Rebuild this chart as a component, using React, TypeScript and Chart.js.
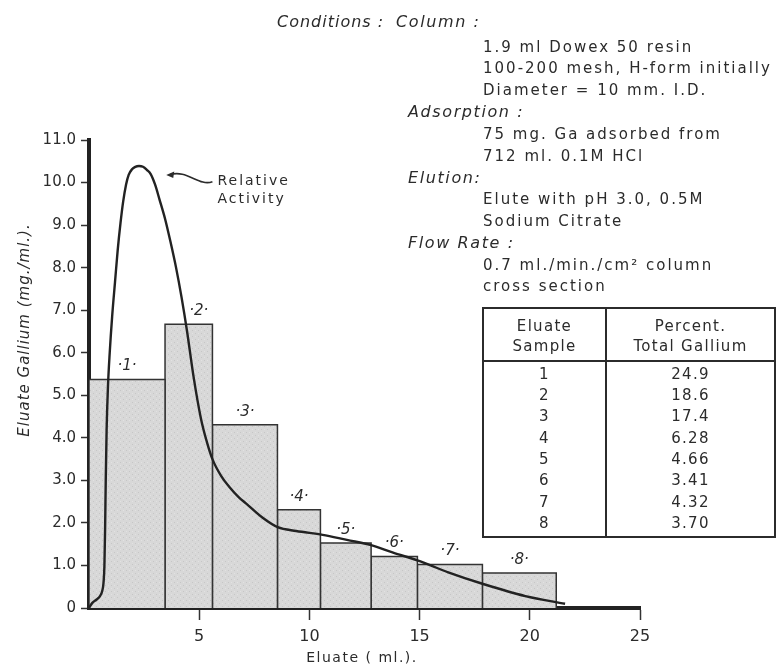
import React, { useEffect, useRef } from 'react';
import { Chart, registerables } from 'chart.js';

Chart.register(...registerables);

// ---- data ----
const binEdges = [0, 3.45, 5.6, 8.55, 10.5, 12.8, 14.9, 17.85, 21.2];
const binHeights = [5.37, 6.67, 4.31, 2.31, 1.53, 1.21, 1.02, 0.82];
const binLabels = ['·1·', '·2·', '·3·', '·4·', '·5·', '·6·', '·7·', '·8·'];

const activityX = [0, 0.15, 0.35, 0.5, 0.6, 0.66, 0.7, 0.73, 0.76, 0.8, 0.86, 0.94, 1.05, 1.18, 1.3, 1.43, 1.55, 1.68, 1.8, 1.95, 2.1, 2.27, 2.45, 2.62, 2.8, 3.0, 3.2, 3.45, 3.7, 3.95, 4.2, 4.45, 4.74, 5.08, 5.35, 5.6, 6.0, 6.36, 6.8, 7.12, 7.88, 8.56, 9.4, 10.6, 11.7, 12.8, 13.8, 14.9, 15.5, 16.3, 17.85, 19.8, 21.6];
const activityY = [0, 0.12, 0.2, 0.28, 0.4, 0.6, 1.0, 1.84, 3.0, 4.2, 5.2, 6.0, 6.85, 7.66, 8.4, 9.05, 9.55, 9.95, 10.18, 10.31, 10.37, 10.39, 10.37, 10.3, 10.2, 9.95, 9.6, 9.15, 8.6, 8.0, 7.3, 6.5, 5.45, 4.45, 3.9, 3.5, 3.1, 2.85, 2.6, 2.46, 2.12, 1.9, 1.81, 1.72, 1.6, 1.48, 1.3, 1.12, 1.0, 0.84, 0.57, 0.28, 0.1];

const yTickValues = [0, 1, 2, 3, 4, 5, 6, 7, 8, 9, 10, 11];
const xTickValues = [5, 10, 15, 20, 25];

const activityLabel = ['Relative', 'Activity'];
const yTitle = 'Eluate Gallium (mg./ml.).';
const xTitle = 'Eluate ( ml.).';

const conditionsTitle = 'Conditions :';
const conditionHeadings = ['Column :', 'Adsorption :', 'Elution:', 'Flow Rate :'];
const conditionDetails = [
  ['1.9 ml Dowex 50 resin', '100-200 mesh, H-form initially', 'Diameter = 10 mm. I.D.'],
  ['75 mg. Ga adsorbed from', '712 ml. 0.1M HCl'],
  ['Elute with pH 3.0, 0.5M', 'Sodium Citrate'],
  ['0.7 ml./min./cm\u00B2 column', 'cross section'],
];

const tableHeaders = [['Eluate', 'Sample'], ['Percent.', 'Total Gallium']];
const tableSamples = ['1', '2', '3', '4', '5', '6', '7', '8'];
const tablePercents = ['24.9', '18.6', '17.4', '6.28', '4.66', '3.41', '4.32', '3.70'];

// ---- styling ----
const INK = '#2b2b2b';
const FONT = '"DejaVu Sans", sans-serif';

function makePattern(ctx: CanvasRenderingContext2D) {
  const c = document.createElement('canvas');
  c.width = 6;
  c.height = 6;
  const p = c.getContext('2d')!;
  p.fillStyle = '#d8d8d8';
  p.fillRect(0, 0, 6, 6);
  p.fillStyle = '#c6c6c6';
  p.fillRect(0, 0, 1, 1);
  p.fillRect(3, 3, 1, 1);
  p.fillStyle = '#e2e2e2';
  p.fillRect(3, 0, 1, 1);
  p.fillRect(0, 3, 1, 1);
  return ctx.createPattern(c, 'repeat');
}

function setSpacing(ctx: CanvasRenderingContext2D, px: number) {
  (ctx as any).letterSpacing = `${px}px`;
}

const annotationPlugin = {
  id: 'annotations',
  afterDraw(chart: any) {
    const ctx: CanvasRenderingContext2D = chart.ctx;
    const xs = chart.scales.x;
    const ys = chart.scales.y;
    ctx.save();
    ctx.fillStyle = INK;
    ctx.strokeStyle = INK;

    // bar labels
    ctx.font = `italic 15px ${FONT}`;
    ctx.textAlign = 'center';
    ctx.textBaseline = 'middle';
    binLabels.forEach((lab, i) => {
      const cx = xs.getPixelForValue((binEdges[i] + binEdges[i + 1]) / 2);
      const top = ys.getPixelForValue(binHeights[i]);
      ctx.fillText(lab, cx + (i === 1 ? 10 : 0), top - 13);
    });

    // relative activity label + arrow
    const tipX = xs.getPixelForValue(3.55);
    const tipY = ys.getPixelForValue(10.18);
    const tailX = xs.getPixelForValue(5.6);
    const tailY = ys.getPixelForValue(10.02);
    ctx.lineWidth = 1.6;
    ctx.beginPath();
    ctx.moveTo(tailX, tailY);
    ctx.bezierCurveTo(tailX - 14, tailY + 5, tipX + 20, tipY - 6, tipX + 2, tipY);
    ctx.stroke();
    ctx.beginPath();
    ctx.moveTo(tipX - 1, tipY);
    ctx.lineTo(tipX + 7, tipY - 3.5);
    ctx.lineTo(tipX + 6, tipY + 3);
    ctx.closePath();
    ctx.fill();

    ctx.textAlign = 'left';
    ctx.font = `14px ${FONT}`;
    setSpacing(ctx, 2);
    activityLabel.forEach((t, i) => {
      ctx.fillText(t, tailX + 5, tailY + i * 18);
    });

    // conditions block
    const rowY = (i: number) => (i === 0 ? 23 : 26 + 21.8 * i);
    ctx.font = `italic 16px ${FONT}`;
    setSpacing(ctx, 1);
    ctx.fillText(conditionsTitle, 277, rowY(0));
    let row = 0;
    conditionHeadings.forEach((h, gi) => {
      ctx.font = `italic 16px ${FONT}`;
      setSpacing(ctx, 1.6);
      ctx.fillText(h, gi === 0 ? 396 : 408, rowY(row));
      row += 1;
      ctx.font = `15px ${FONT}`;
      setSpacing(ctx, 2);
      conditionDetails[gi].forEach((d) => {
        ctx.fillText(d, 483, rowY(row));
        row += 1;
      });
    });

    // table
    const tL = 483, tR = 775, tT = 308, tB = 537, tH = 361, tD = 606;
    ctx.lineWidth = 2;
    ctx.strokeRect(tL, tT, tR - tL, tB - tT);
    ctx.beginPath();
    ctx.moveTo(tL, tH);
    ctx.lineTo(tR, tH);
    ctx.moveTo(tD, tT);
    ctx.lineTo(tD, tB);
    ctx.stroke();
    ctx.textAlign = 'center';
    ctx.font = `15px ${FONT}`;
    setSpacing(ctx, 1.3);
    const c1 = (tL + tD) / 2;
    const c2 = (tD + tR) / 2;
    tableHeaders[0].forEach((t, i) => ctx.fillText(t, c1, 327 + i * 20));
    tableHeaders[1].forEach((t, i) => ctx.fillText(t, c2, 327 + i * 20));
    tableSamples.forEach((t, i) => ctx.fillText(t, c1, 375 + i * 21.3));
    tablePercents.forEach((t, i) => ctx.fillText(t, c2, 375 + i * 21.3));

    // axis titles
    ctx.font = `italic 15px ${FONT}`;
    setSpacing(ctx, 1);
    ctx.save();
    ctx.translate(25, 330);
    ctx.rotate(-Math.PI / 2);
    ctx.fillText(yTitle, 0, 0);
    ctx.restore();
    ctx.font = `14px ${FONT}`;
    setSpacing(ctx, 1.5);
    ctx.fillText(xTitle, 362, 658);
    setSpacing(ctx, 0);
    ctx.restore();
  },
};

export default function App() {
  const ref = useRef<HTMLCanvasElement | null>(null);

  useEffect(() => {
    const canvas = ref.current!;
    const ctx = canvas.getContext('2d')!;
    const pattern = makePattern(ctx);

    const barSets = binHeights.map((h, i) => ({
      type: 'line' as const,
      data: [
        { x: binEdges[i], y: 0 },
        { x: binEdges[i], y: h },
        { x: binEdges[i + 1], y: h },
        { x: binEdges[i + 1], y: 0 },
      ],
      borderColor: '#333',
      borderWidth: 1.5,
      backgroundColor: pattern,
      fill: 'origin',
      pointRadius: 0,
      tension: 0,
    }));

    const curve = {
      type: 'line' as const,
      data: activityX.map((x, i) => ({ x, y: activityY[i] })),
      borderColor: '#222',
      borderWidth: 2.4,
      fill: false,
      pointRadius: 0,
      cubicInterpolationMode: 'monotone' as const,
    };

    const chart = new Chart(canvas, {
      type: 'line',
      data: { datasets: [curve, ...barSets] as any },
      options: {
        responsive: true,
        maintainAspectRatio: false,
        animation: false,
        parsing: false as any,
        layout: { padding: { left: 0, top: 140, right: 144, bottom: 0 } },
        plugins: { legend: { display: false }, tooltip: { enabled: false } },
        scales: {
          x: {
            type: 'linear',
            min: 0,
            max: 25,
            afterBuildTicks: (s: any) => {
              s.ticks = xTickValues.map((v) => ({ value: v }));
            },
            afterFit: (s: any) => {
              s.height = 61;
            },
            border: { display: true, width: 4, color: '#222' },
            grid: { drawOnChartArea: false, drawTicks: true, tickLength: 12, tickWidth: 1.5, tickColor: '#333' },
            ticks: {
              color: INK,
              font: { family: FONT, size: 16 },
              padding: 7,
              maxRotation: 0,
              autoSkip: false,
            },
          },
          y: {
            type: 'linear',
            min: 0,
            max: 11,
            afterBuildTicks: (s: any) => {
              s.ticks = yTickValues.map((v) => ({ value: v }));
            },
            afterFit: (s: any) => {
              s.width = 89;
            },
            border: { display: true, width: 4, color: '#222' },
            grid: { drawOnChartArea: false, drawTicks: true, tickLength: 8, tickWidth: 1.5, tickColor: '#333' },
            ticks: {
              color: INK,
              font: { family: FONT, size: 15 },
              padding: 5,
              autoSkip: false,
              callback: (v: any) => (Number(v) === 0 ? '0' : Number(v).toFixed(1)),
            },
          },
        },
      },
      plugins: [annotationPlugin],
    });

    return () => chart.destroy();
  }, []);

  return (
    <div style={{ position: 'fixed', left: 0, top: 0, width: 784, height: 669, background: '#fff' }}>
      <canvas ref={ref} />
    </div>
  );
}
